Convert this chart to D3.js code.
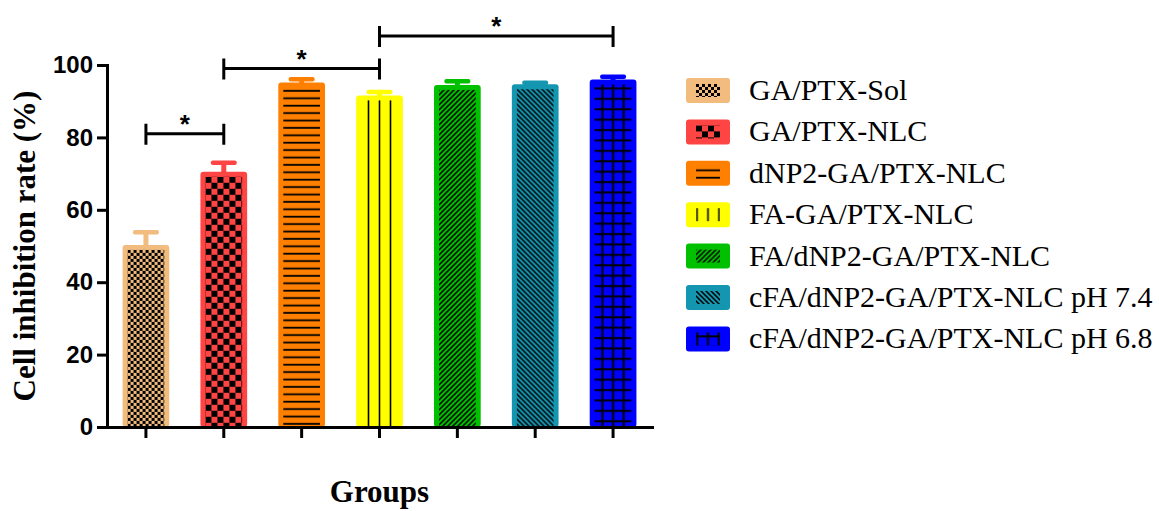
<!DOCTYPE html>
<html lang="en">
<head>
  <meta charset="utf-8">
  <script src="https://cdn.jsdelivr.net/npm/d3@7"></script>
  <style>
    body { margin: 0; background: #fff; }
    .tick text { font-family: "Liberation Sans", Arial, sans-serif; font-weight: bold; font-size: 24px; fill: #000; }
    .axis-title { font-family: "Liberation Serif", "Times New Roman", serif; font-weight: bold; fill: #000; }
    .legend-label { font-family: "Liberation Serif", "Times New Roman", serif; font-size: 30px; fill: #000; }
  </style>
</head>
<body>
  <script>
    // values
    var groups = ["GA/PTX-Sol", "GA/PTX-NLC", "dNP2-GA/PTX-NLC", "FA-GA/PTX-NLC",
                  "FA/dNP2-GA/PTX-NLC", "cFA/dNP2-GA/PTX-NLC pH 7.4", "cFA/dNP2-GA/PTX-NLC pH 6.8"];
    var means = [50.3, 70.5, 95.2, 91.6, 94.5, 94.7, 96.0];
    var errors = [3.6, 2.6, 0.9, 1.0, 1.1, 0.5, 0.8];
    var colors = ["#f2bc7e", "#ff4444", "#ff8000", "#ffff00", "#00c000", "#1596b0", "#0000ff"];
    var fills = ["checkFine", "checkCoarse", "hlines", "vlines", "diagUp", "diagDown", "grid"];
    var yTicks = [0, 20, 40, 60, 80, 100];

    // significance brackets: from group, to group, height (%)
    var brackets = [
      {from: 0, to: 1, level: 81},
      {from: 1, to: 3, level: 99},
      {from: 3, to: 6, level: 108}
    ];

    var width = 1159, height = 511;
    var plot = {left: 107, right: 652, top: 65, bottom: 427};

    var svg = d3.select("body").append("svg")
      .attr("width", width)
      .attr("height", height);

    svg.append("rect").attr("width", width).attr("height", height).attr("fill", "#fff");

    var defs = svg.append("defs");

    var x = d3.scaleBand()
      .domain(groups)
      .range([plot.left, plot.right])
      .paddingInner(0.4)
      .paddingOuter(0.2);

    var y = d3.scaleLinear()
      .domain([0, 100])
      .range([plot.bottom, plot.top]);

    // builds a pattern aligned to a given origin (cx = centre line, ox/oy = top left)
    function makePattern(id, kind, color, cx, ox, oy) {
      var p = defs.append("pattern")
        .attr("id", id)
        .attr("patternUnits", "userSpaceOnUse");
      var w, h;
      if (kind == "checkFine" || kind == "checkCoarse") {
        var s = kind == "checkFine" ? 3 : 6;
        w = h = 2 * s;
        p.attr("x", ox).attr("y", oy);
        p.append("rect").attr("width", w).attr("height", h).attr("fill", color);
        p.append("rect").attr("width", s).attr("height", s).attr("fill", "#000");
        p.append("rect").attr("x", s).attr("y", s).attr("width", s).attr("height", s).attr("fill", "#000");
      } else if (kind == "hlines") {
        w = 10; h = 7.4;
        p.attr("x", ox).attr("y", oy);
        p.append("rect").attr("width", w).attr("height", h).attr("fill", color);
        p.append("rect").attr("y", 2.6).attr("width", w).attr("height", 1.8).attr("fill", "#000");
      } else if (kind == "vlines") {
        w = 11; h = 10;
        p.attr("x", cx - w / 2).attr("y", oy);
        p.append("rect").attr("width", w).attr("height", h).attr("fill", color);
        p.append("rect").attr("x", w / 2 - 0.8).attr("width", 1.6).attr("height", h).attr("fill", "#000");
      } else if (kind == "diagUp" || kind == "diagDown") {
        w = h = 5;
        p.attr("x", ox).attr("y", oy);
        p.append("rect").attr("width", w).attr("height", h).attr("fill", color);
        var d = kind == "diagUp"
          ? "M-1,1 L1,-1 M0,5 L5,0 M4,6 L6,4"
          : "M-1,4 L1,6 M0,0 L5,5 M4,-1 L6,1";
        p.append("path").attr("d", d).attr("stroke", "#000").attr("stroke-width", 1.5);
      } else if (kind == "grid") {
        w = 10.7; h = 10.4;
        p.attr("x", cx - w / 2).attr("y", oy);
        p.append("rect").attr("width", w).attr("height", h).attr("fill", color);
        p.append("rect").attr("x", w / 2 - 1).attr("width", 2).attr("height", h).attr("fill", "#000");
        p.append("rect").attr("y", 3).attr("width", w).attr("height", 2).attr("fill", "#000");
      }
      p.attr("width", w).attr("height", h);
      return "url(#" + id + ")";
    }

    // bars
    var bars = svg.append("g").attr("class", "bars");
    groups.forEach(function(g, i) {
      var bx = x(g), bw = x.bandwidth(), cx = bx + bw / 2;
      var top = y(means[i]);
      var col = colors[i];

      // error bar (drawn first, bar sits over the stem)
      var eTop = y(means[i] + errors[i]);
      bars.append("line")
        .attr("x1", cx).attr("x2", cx)
        .attr("y1", top + 2).attr("y2", eTop)
        .attr("stroke", col).attr("stroke-width", 5);
      bars.append("rect")
        .attr("x", cx - 13).attr("y", eTop - 2)
        .attr("width", 26).attr("height", 4.5)
        .attr("rx", 2)
        .attr("fill", col);

      bars.append("rect")
        .attr("x", bx).attr("y", top)
        .attr("width", bw).attr("height", plot.bottom - top)
        .attr("rx", 3)
        .attr("fill", col);

      var inset = 5;
      var fill = makePattern("bar-fill-" + i, fills[i], col, cx, bx + inset, top + inset);
      bars.append("rect")
        .attr("x", bx + inset).attr("y", top + inset)
        .attr("width", bw - 2 * inset).attr("height", plot.bottom - top - inset)
        .attr("fill", fill);
    });

    // axes
    var yAxis = svg.append("g")
      .attr("transform", "translate(" + plot.left + ",0)")
      .call(d3.axisLeft(y).tickValues(yTicks).tickSize(10).tickPadding(4).tickSizeOuter(0));

    var xAxis = svg.append("g")
      .attr("transform", "translate(0," + plot.bottom + ")")
      .call(d3.axisBottom(x).tickSize(11).tickSizeOuter(0).tickFormat(""));

    svg.selectAll(".domain, .tick line")
      .attr("stroke", "#000")
      .attr("stroke-width", 3);
    svg.selectAll(".domain").attr("stroke-linecap", "square");

    // axis titles
    svg.append("text")
      .attr("class", "axis-title")
      .attr("transform", "translate(" + 35 + "," + y(50) + ") rotate(-90)")
      .attr("text-anchor", "middle")
      .style("font-size", "31px")
      .text("Cell inhibition rate (%)");

    svg.append("text")
      .attr("class", "axis-title")
      .attr("x", (plot.left + plot.right) / 2)
      .attr("y", 502)
      .attr("text-anchor", "middle")
      .style("font-size", "31px")
      .text("Groups");

    // significance brackets
    var sig = svg.append("g").attr("class", "brackets");
    brackets.forEach(function(b) {
      var x1 = x(groups[b.from]) + x.bandwidth() / 2;
      var x2 = x(groups[b.to]) + x.bandwidth() / 2;
      var by = y(b.level);
      sig.append("path")
        .attr("d", "M" + x1 + "," + (by - 10) + "V" + (by + 11) +
                   "M" + x1 + "," + by + "H" + x2 +
                   "M" + x2 + "," + (by - 10) + "V" + (by + 11))
        .attr("fill", "none")
        .attr("stroke", "#000")
        .attr("stroke-width", 3);
      sig.append("text")
        .attr("x", (x1 + x2) / 2)
        .attr("y", by - 1)
        .attr("text-anchor", "middle")
        .style("font-family", "Liberation Sans, Arial, sans-serif")
        .style("font-weight", "bold")
        .style("font-size", "26px")
        .text("*");
    });

    // legend
    var legend = svg.append("g").attr("class", "legend");
    groups.forEach(function(g, i) {
      var ly = 78 + i * 41.4;
      var col = colors[i];
      legend.append("rect")
        .attr("x", 686).attr("y", ly)
        .attr("width", 44).attr("height", 25)
        .attr("rx", 3)
        .attr("fill", col);
      var fill = makePattern("leg-fill-" + i, fills[i], col, 708, 696, ly + 6);
      legend.append("rect")
        .attr("x", 696).attr("y", ly + 6)
        .attr("width", 24).attr("height", 13)
        .attr("fill", fill);
      legend.append("text")
        .attr("class", "legend-label")
        .attr("x", 749)
        .attr("y", ly + 22)
        .text(g);
    });
  </script>
</body>
</html>
